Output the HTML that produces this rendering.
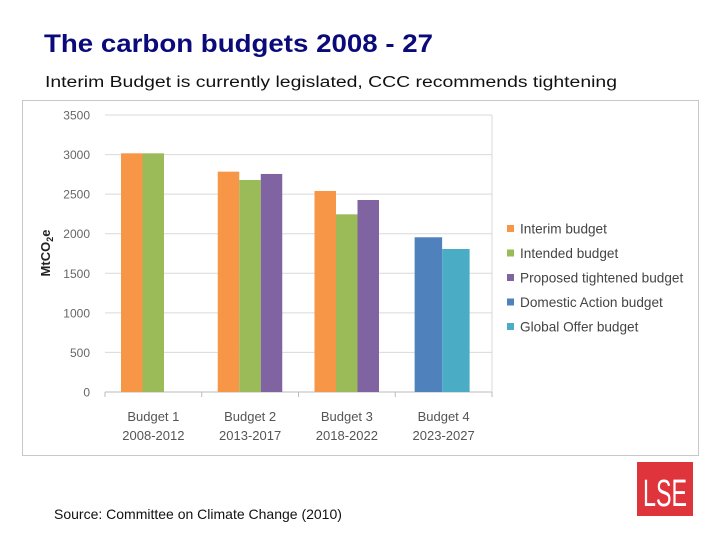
<!DOCTYPE html>
<html><head><meta charset="utf-8"><style>
html,body{margin:0;padding:0;background:#fff;}
svg{display:block;font-family:"Liberation Sans",sans-serif;}
</style></head><body>
<svg id="root" width="720" height="540" viewBox="0 0 720 540">
<text x="44" y="52" font-size="25" font-weight="bold" fill="#0a0a7a" textLength="389" lengthAdjust="spacingAndGlyphs">The carbon budgets 2008 - 27</text>
<text x="45" y="87" font-size="15.5" fill="#111" textLength="572" lengthAdjust="spacingAndGlyphs">Interim Budget is currently legislated, CCC recommends tightening</text>
<rect x="22.5" y="100.5" width="676" height="355" fill="#fff" stroke="#c8c8c8"/>
<g id="chart"></g>
<g id="legend"></g>
<text x="54" y="519" font-size="14" fill="#111">Source: Committee on Climate Change (2010)</text>
<g>
<rect x="637" y="462" width="56" height="54" fill="#e0343c"/>
<text x="665" y="506" font-size="38" fill="#fff" text-anchor="middle" textLength="44" lengthAdjust="spacingAndGlyphs">LSE</text>
</g>
</svg>
<script>
const categories=["Budget 1|2008-2012","Budget 2|2013-2017","Budget 3|2018-2022","Budget 4|2023-2027"];
const seriesNames=["Interim budget","Intended budget","Proposed tightened budget","Domestic Action budget","Global Offer budget"];
const interim=[3016,2784,2540,null];
const intended=[3016,2679,2245,null];
const proposed=[null,2755,2426,null];
const domestic=[null,null,null,1955];
const globalOffer=[null,null,null,1807];
const yTicks=[0,500,1000,1500,2000,2500,3000,3500];
const colors=["#f79646","#9bbb59","#8064a2","#4f81bd","#4bacc6"];
const series=[interim,intended,proposed,domestic,globalOffer];
const NS="http://www.w3.org/2000/svg";
const px0=105,px1=492,py0=392,py1=115,ymax=3500;
const catW=(px1-px0)/categories.length;
function y(v){return py0-(v/ymax)*(py0-py1);}
function mk(t,a,p){const e=document.createElementNS(NS,t);for(const k in a)e.setAttribute(k,a[k]);p.appendChild(e);return e;}
const g=document.getElementById('chart');
yTicks.forEach(t=>{
  const l=mk('line',{x1:px0,x2:px1,y1:y(t),y2:y(t),stroke:t===0?'#bbb':'#d9d9d9','stroke-width':1},g);
  
  
  const tx=mk('text',{x:90,y:y(t)+4.5,'font-size':12,fill:'#666','text-anchor':'end'},g);
  tx.textContent=t;
  
  
});
const ax=mk('line',{x1:px1,x2:px1,y1:py1,y2:py0,stroke:'#d9d9d9'},g);


for(let i=0;i<=categories.length;i++){
  const tk=mk('line',{x1:px0+i*catW,x2:px0+i*catW,y1:py0,y2:py0+5,stroke:'#bbb'},g);
  
  
}
categories.forEach((c,i)=>{
  const idx=[];series.forEach((s,k)=>{if(s[i]!=null)idx.push(k);});
  const slots=idx.some(k=>k>=3)?2:3;
  const bw=slots===3?21.5:27.5;
  const start=px0+i*catW+(slots===3?16:catW/2-bw-1.5);
  series.forEach((s,k)=>{
    if(s[i]==null)return;
    const slot=slots===3?k:(k-3);
    const r=mk('rect',{x:start+slot*bw,y:y(s[i]),width:bw,height:py0-y(s[i]),fill:colors[k]},g);
    
    
  });
  const parts=c.split('|');
  parts.forEach((p,j)=>{
    const t=mk('text',{x:px0+i*catW+catW/2,y:421+j*19,'font-size':13,fill:'#555','text-anchor':'middle'},g);
    t.textContent=p;
    
    
  });
});
const yt=mk('text',{x:0,y:0,'font-size':13,'font-weight':'bold',fill:'#222','text-anchor':'middle',transform:'translate(50,253) rotate(-90)'},g);
yt.innerHTML='MtCO<tspan font-size="9" dy="3">2</tspan><tspan dy="-3">e</tspan>';


const lg=document.getElementById('legend');
seriesNames.forEach((n,k)=>{
  const yy=229+k*24.5;
  const s=mk('rect',{x:507,y:yy-4,width:7,height:7,fill:colors[k]},lg);
  
  
  const t=mk('text',{x:520,y:yy+4.5,'font-size':13.6,fill:'#444'},lg);
  t.textContent=n;
  
  
});
</script>
</body></html>
